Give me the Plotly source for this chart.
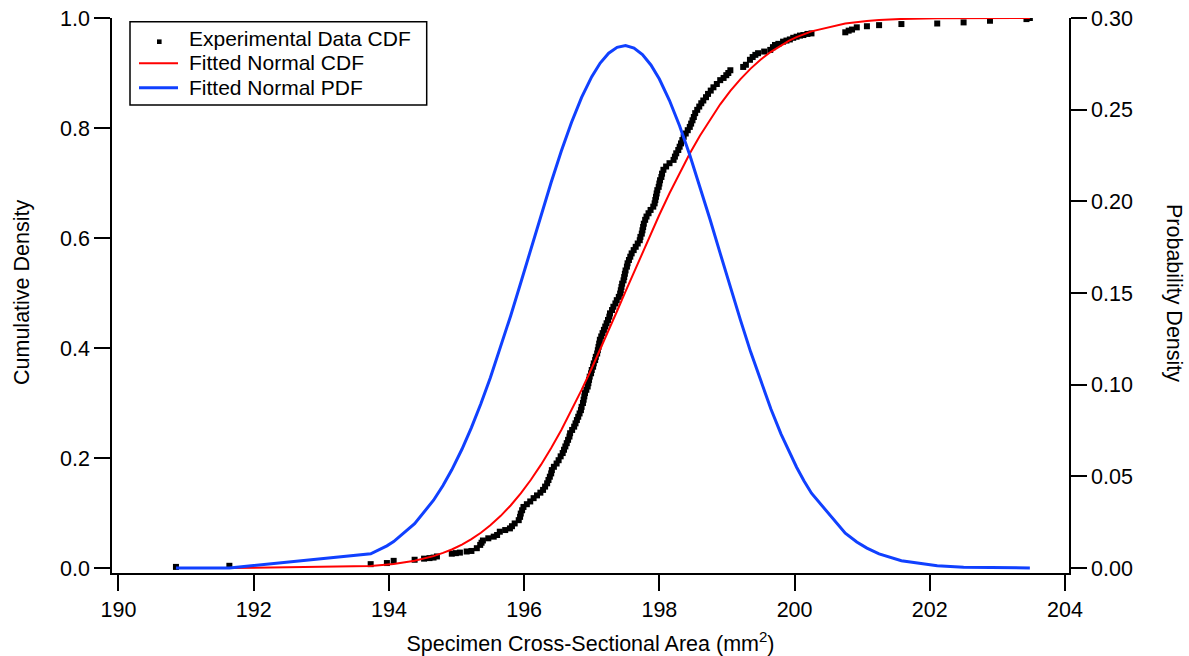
import plotly.graph_objects as go

# Empirical CDF of the measured specimen areas (sorted area, cumulative fraction)
ecdf_area = [
    190.85, 191.64, 193.73, 193.97, 194.07, 194.38, 194.52, 194.60, 194.66, 194.71,
    194.93, 194.99, 195.05, 195.15, 195.22,
    195.30, 195.35, 195.37, 195.39, 195.47, 195.55, 195.60, 195.64, 195.72, 195.79,
    195.82, 195.86, 195.92, 195.94, 195.95, 195.97, 195.99, 196.04, 196.09, 196.14,
    196.19, 196.24, 196.28, 196.31, 196.34, 196.36, 196.38, 196.40, 196.41, 196.44,
    196.48, 196.51, 196.54, 196.57, 196.59, 196.61, 196.63, 196.65, 196.67, 196.68,
    196.71, 196.74, 196.76, 196.78, 196.80, 196.82, 196.84, 196.85, 196.87, 196.88,
    196.89, 196.90, 196.92, 196.94, 196.95, 196.96, 196.97, 196.99, 197.00, 197.02,
    197.03, 197.05, 197.06, 197.08, 197.09, 197.10, 197.11, 197.12, 197.14, 197.16,
    197.18, 197.20, 197.22, 197.24, 197.26, 197.27, 197.30, 197.32, 197.35, 197.37,
    197.40, 197.42, 197.43, 197.44, 197.45, 197.47, 197.48, 197.49, 197.50, 197.52,
    197.53, 197.55, 197.57, 197.59, 197.62, 197.65, 197.68, 197.71, 197.72, 197.74,
    197.75, 197.76, 197.77, 197.79, 197.81, 197.84, 197.87, 197.91, 197.93, 197.94,
    197.95, 197.96, 197.97, 197.99, 198.00, 198.01, 198.03, 198.04, 198.06, 198.10,
    198.15, 198.21, 198.23, 198.25, 198.28, 198.30, 198.32, 198.34, 198.36, 198.39,
    198.42, 198.45, 198.47, 198.49, 198.51, 198.53, 198.56, 198.59, 198.62, 198.65,
    198.69, 198.72, 198.76, 198.80, 198.85, 198.90, 198.95, 198.99, 199.02, 199.05,
    199.24, 199.28, 199.34, 199.38, 199.42, 199.46, 199.55, 199.64, 199.68, 199.71,
    199.76, 199.83, 199.88, 199.93, 199.98, 200.03, 200.08, 200.13, 200.19, 200.25,
    200.75, 200.80, 200.85, 200.92, 201.07, 201.25, 201.58, 202.11, 202.50, 202.89,
    203.43, 203.48,
]
ecdf_frac = [
    0.002, 0.004, 0.007, 0.009, 0.013, 0.015, 0.017, 0.018, 0.019, 0.021,
    0.026, 0.027, 0.028, 0.030, 0.031,
    0.036, 0.042, 0.046, 0.050, 0.054, 0.057, 0.060, 0.066, 0.069, 0.072,
    0.076, 0.081, 0.087, 0.093, 0.099, 0.105, 0.111, 0.116, 0.121, 0.127,
    0.132, 0.137, 0.142, 0.148, 0.154, 0.160, 0.166, 0.172, 0.178, 0.184,
    0.190, 0.196, 0.203, 0.209, 0.215, 0.221, 0.227, 0.233, 0.239, 0.245,
    0.251, 0.257, 0.263, 0.269, 0.275, 0.281, 0.287, 0.293, 0.300, 0.306,
    0.312, 0.318, 0.324, 0.330, 0.336, 0.342, 0.348, 0.354, 0.360, 0.366,
    0.372, 0.378, 0.384, 0.390, 0.396, 0.402, 0.408, 0.415, 0.421, 0.427,
    0.433, 0.439, 0.445, 0.451, 0.457, 0.463, 0.469, 0.475, 0.481, 0.487,
    0.493, 0.499, 0.505, 0.511, 0.517, 0.523, 0.529, 0.535, 0.541, 0.548,
    0.554, 0.560, 0.566, 0.572, 0.578, 0.584, 0.590, 0.596, 0.602, 0.608,
    0.614, 0.620, 0.626, 0.633, 0.639, 0.645, 0.651, 0.657, 0.663, 0.669,
    0.675, 0.681, 0.687, 0.693, 0.699, 0.705, 0.711, 0.717, 0.724, 0.730,
    0.736, 0.742, 0.748, 0.754, 0.760, 0.766, 0.772, 0.778, 0.784, 0.790,
    0.796, 0.802, 0.808, 0.814, 0.820, 0.827, 0.833, 0.839, 0.845, 0.850,
    0.856, 0.862, 0.868, 0.874, 0.880, 0.887, 0.891, 0.896, 0.900, 0.905,
    0.911, 0.915, 0.924, 0.929, 0.933, 0.936, 0.939, 0.942, 0.947, 0.951,
    0.953, 0.957, 0.959, 0.961, 0.964, 0.966, 0.968, 0.969, 0.971, 0.972,
    0.974, 0.977, 0.979, 0.983, 0.985, 0.987, 0.989, 0.990, 0.992, 0.995,
    0.998, 1.000,
]

# Fitted normal curve (mean ~197.49, sd ~1.40), sampled along the area axis
fit_area = [
    190.85, 191.64, 193.73, 193.97, 194.07, 194.38, 194.66, 194.80, 194.93, 195.08,
    195.22, 195.36, 195.50, 195.65, 195.80, 195.95, 196.10, 196.25, 196.40, 196.55,
    196.70, 196.85, 197.00, 197.125, 197.25, 197.375, 197.50, 197.625, 197.75, 197.875,
    198.00, 198.15, 198.30, 198.45, 198.60, 198.75, 198.90, 199.05, 199.20, 199.35,
    199.50, 199.65, 199.80, 199.92, 200.03, 200.14, 200.25, 200.75, 200.92, 201.07,
    201.25, 201.58, 202.11, 202.50, 202.89, 203.48,
]
fit_cdf = [
    0.0000, 0.0000, 0.0036, 0.0060, 0.0073, 0.0132, 0.0216, 0.0274, 0.0337, 0.0426,
    0.0525, 0.0641, 0.0777, 0.0944, 0.1137, 0.1357, 0.1604, 0.1879, 0.2181, 0.2510,
    0.2863, 0.3238, 0.3632, 0.3972, 0.4320, 0.4673, 0.5028, 0.5384, 0.5737, 0.6083,
    0.6422, 0.6813, 0.7186, 0.7536, 0.7861, 0.8159, 0.8431, 0.8674, 0.8890, 0.9080,
    0.9245, 0.9386, 0.9505, 0.9587, 0.9652, 0.9708, 0.9757, 0.9901, 0.9929, 0.9947,
    0.9964, 0.9983, 0.9995, 0.9998, 0.9999, 1.0000,
]
fit_pdf = [
    0.00000, 0.00005, 0.00773, 0.01208, 0.01441, 0.02418, 0.03696, 0.04500, 0.05354, 0.06477,
    0.07657, 0.08957, 0.10380, 0.12014, 0.13750, 0.15562, 0.17410, 0.19252, 0.21040, 0.22746,
    0.24300, 0.25669, 0.26800, 0.27544, 0.28080, 0.28400, 0.28500, 0.28364, 0.28010, 0.27439,
    0.26670, 0.25498, 0.24110, 0.22526, 0.20810, 0.19007, 0.17160, 0.15317, 0.13520, 0.11789,
    0.10170, 0.08668, 0.07306, 0.06318, 0.05497, 0.04750, 0.04081, 0.01894, 0.01417, 0.01084,
    0.00773, 0.00400, 0.00123, 0.00047, 0.00017, 0.00003,
]

x_ticks = [190, 192, 194, 196, 198, 200, 202, 204]
cdf_ticks = [0.0, 0.2, 0.4, 0.6, 0.8, 1.0]
pdf_ticks = [0.00, 0.05, 0.10, 0.15, 0.20, 0.25, 0.30]

series_names = ["Experimental Data CDF", "Fitted Normal CDF", "Fitted Normal PDF"]

FONT = "Liberation Sans, Arial, Helvetica, sans-serif"
FS = 21.5
LEG_FS = 21
RED = "#ff0000"
BLUE = "#1040ff"

W, H = 1189, 656
ML, MR, MT, MB = 112, 120, 18, 83
PW, PH = W - ML - MR, H - MT - MB


def px(xpix):
    """Horizontal pixel -> paper coordinate."""
    return (xpix - ML) / PW


def py(ypix):
    """Vertical pixel -> paper coordinate."""
    return (H - MB - ypix) / PH


fig = go.Figure()
fig.add_trace(go.Scatter(
    x=ecdf_area, y=ecdf_frac, mode="markers", name=series_names[0],
    marker=dict(symbol="square", size=6, color="black", line=dict(width=0)),
))
fig.add_trace(go.Scatter(
    x=fit_area, y=fit_cdf, mode="lines", name=series_names[1],
    line=dict(color=RED, width=2),
))
fig.add_trace(go.Scatter(
    x=fit_area, y=fit_pdf, mode="lines", name=series_names[2], yaxis="y2",
    line=dict(color=BLUE, width=3),
))

axis_common = dict(
    showline=True, linecolor="black", linewidth=1.5,
    ticks="outside", ticklen=16, tickwidth=1.5, tickcolor="black",
    showgrid=False, zeroline=False, automargin=False,
    tickfont=dict(family=FONT, size=FS, color="black"),
)

# Boxed legend in the upper-left corner of the plot
sym_rows = [41.7, 63.3, 87.7]
text_rows = [38.4, 62.8, 87.4]
shapes = [
    dict(type="rect", xref="paper", yref="paper",
         x0=px(130), x1=px(426.7), y0=py(105), y1=py(21.7),
         line=dict(color="black", width=1.5), fillcolor="white", layer="above"),
    dict(type="rect", xref="paper", yref="paper",
         x0=px(157), x1=px(161.6), y0=py(sym_rows[0] + 2.3), y1=py(sym_rows[0] - 2.3),
         line=dict(width=0), fillcolor="black", layer="above"),
    dict(type="line", xref="paper", yref="paper",
         x0=px(139), x1=px(178), y0=py(sym_rows[1]), y1=py(sym_rows[1]),
         line=dict(color=RED, width=2), layer="above"),
    dict(type="line", xref="paper", yref="paper",
         x0=px(139), x1=px(178), y0=py(sym_rows[2]), y1=py(sym_rows[2]),
         line=dict(color=BLUE, width=3), layer="above"),
]
annotations = [
    dict(text=name, showarrow=False, xref="paper", yref="paper",
         x=px(186.5), y=py(row), xanchor="left", yanchor="middle",
         font=dict(family=FONT, size=LEG_FS, color="black"))
    for name, row in zip(series_names, text_rows)
]
annotations += [
    dict(text="Cumulative Density", textangle=-90, showarrow=False,
         xref="paper", yref="paper", x=px(22), y=py(293),
         xanchor="center", yanchor="middle",
         font=dict(family=FONT, size=FS, color="black")),
    dict(text="Probability Density", textangle=90, showarrow=False,
         xref="paper", yref="paper", x=px(1174), y=py(293),
         xanchor="center", yanchor="middle",
         font=dict(family=FONT, size=FS, color="black")),
]

fig.update_layout(
    width=W, height=H,
    margin=dict(l=ML, r=MR, t=MT, b=MB),
    paper_bgcolor="white", plot_bgcolor="white",
    font=dict(family=FONT, size=FS, color="black"),
    showlegend=False,
    xaxis=dict(
        range=[189.904, 204.059], tickvals=x_ticks,
        title=dict(text="Specimen Cross-Sectional Area (mm<sup>2</sup>)",
                   font=dict(family=FONT, size=FS), standoff=18),
        **axis_common,
    ),
    yaxis=dict(
        range=[-0.00909, 1.0], tickvals=cdf_ticks, tickformat=".1f",
        **axis_common,
    ),
    yaxis2=dict(
        range=[-0.002727, 0.30], tickvals=pdf_ticks, tickformat=".2f",
        overlaying="y", side="right",
        **axis_common,
    ),
    shapes=shapes,
    annotations=annotations,
)

fig.write_html("out.html")
